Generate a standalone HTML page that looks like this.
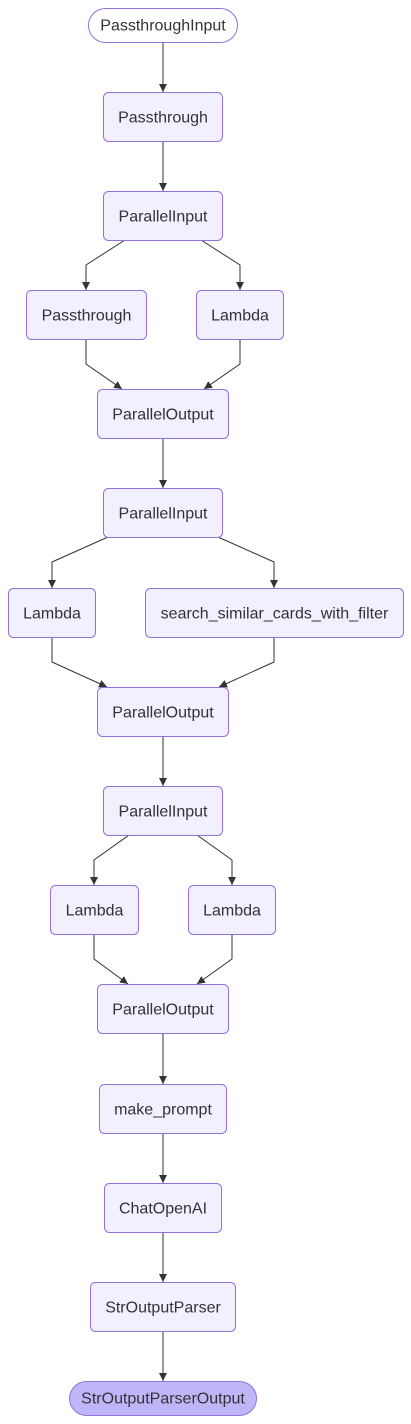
<!DOCTYPE html>
<html><head><meta charset="utf-8"><style>
html,body{margin:0;padding:0;background:#fff;}
svg{display:block;}
text{font-family:"Liberation Sans",Arial,sans-serif;font-size:16px;fill:#333;text-anchor:middle;dominant-baseline:central;}
.n{fill:#F2F0FF;stroke:#9370DB;stroke-width:1;}
.e{fill:none;stroke:#333;stroke-width:1;marker-end:url(#a);}
</style></head><body>
<svg width="411" height="1424" viewBox="0 0 411 1424" xmlns="http://www.w3.org/2000/svg">
<defs><marker id="a" viewBox="0 0 10 10" refX="10" refY="5" markerWidth="8" markerHeight="8" markerUnits="userSpaceOnUse" orient="auto"><path d="M0,0L10,5L0,10z" fill="#333"/></marker></defs>
<g>
<path class="e" d="M163,42V92"/>
<path class="e" d="M163,141V191"/>
<path class="e" d="M125,240L86,265V290"/>
<path class="e" d="M201,240L240,265V290"/>
<path class="e" d="M86,339V364L122,389"/>
<path class="e" d="M240,339V364L204,389"/>
<path class="e" d="M163,438V488"/>
<path class="e" d="M108,537L52,562V588"/>
<path class="e" d="M218,537L274,562V588"/>
<path class="e" d="M52,637V662L107,687"/>
<path class="e" d="M274,637V662L219,687"/>
<path class="e" d="M163,736V786"/>
<path class="e" d="M129,835L94,860V885"/>
<path class="e" d="M197,835L232,860V885"/>
<path class="e" d="M94,934V959L128,984"/>
<path class="e" d="M232,934V959L197,984"/>
<path class="e" d="M163,1033V1084"/>
<path class="e" d="M163,1133V1183"/>
<path class="e" d="M163,1232V1282"/>
<path class="e" d="M163,1331V1381"/>
</g>
<rect x="88.5" y="8.5" width="149" height="34" rx="17" fill="#fff" stroke="#9370DB"/><text x="163" y="26">PassthroughInput</text>
<rect class="n" x="103.5" y="92.5" width="119" height="49" rx="5"/><text x="163" y="118">Passthrough</text>
<rect class="n" x="103.5" y="191.5" width="119" height="49" rx="5"/><text x="163" y="217">ParallelInput</text>
<rect class="n" x="26.5" y="290.5" width="120" height="49" rx="5"/><text x="86.5" y="316">Passthrough</text>
<rect class="n" x="196.5" y="290.5" width="87" height="49" rx="5"/><text x="240" y="316">Lambda</text>
<rect class="n" x="97.5" y="389.5" width="131" height="49" rx="5"/><text x="163" y="415">ParallelOutput</text>
<rect class="n" x="103.5" y="488.5" width="119" height="49" rx="5"/><text x="163" y="514">ParallelInput</text>
<rect class="n" x="8.5" y="588.5" width="87" height="49" rx="5"/><text x="52" y="614">Lambda</text>
<rect class="n" x="145.5" y="588.5" width="258" height="49" rx="5"/><text x="274.5" y="614">search_similar_cards_with_filter</text>
<rect class="n" x="97.5" y="687.5" width="131" height="49" rx="5"/><text x="163" y="713">ParallelOutput</text>
<rect class="n" x="103.5" y="786.5" width="119" height="49" rx="5"/><text x="163" y="812">ParallelInput</text>
<rect class="n" x="50.5" y="885.5" width="88" height="49" rx="5"/><text x="94.5" y="911">Lambda</text>
<rect class="n" x="188.5" y="885.5" width="87" height="49" rx="5"/><text x="232" y="911">Lambda</text>
<rect class="n" x="97.5" y="984.5" width="131" height="49" rx="5"/><text x="163" y="1010">ParallelOutput</text>
<rect class="n" x="99.5" y="1084.5" width="127" height="49" rx="5"/><text x="163" y="1110">make_prompt</text>
<rect class="n" x="104.5" y="1183.5" width="117" height="49" rx="5"/><text x="163" y="1209">ChatOpenAI</text>
<rect class="n" x="90.5" y="1282.5" width="145" height="49" rx="5"/><text x="163" y="1308">StrOutputParser</text>
<rect x="69.5" y="1381.5" width="187" height="34" rx="17" fill="#BFB6FA" stroke="#9370DB"/><text x="163" y="1399">StrOutputParserOutput</text>
</svg>
</body></html>
